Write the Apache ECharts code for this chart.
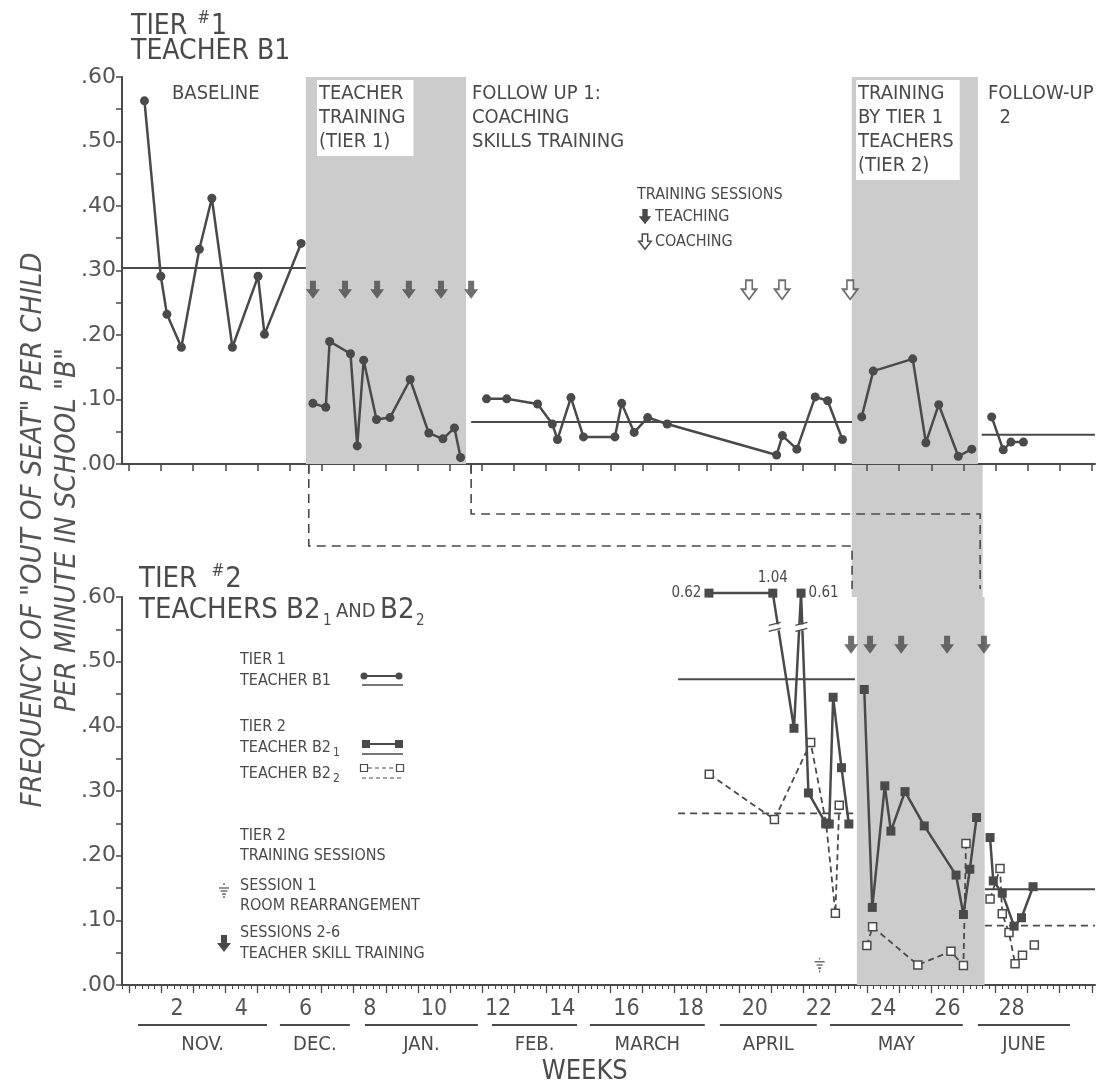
<!DOCTYPE html>
<html><head><meta charset="utf-8">
<script src="https://cdn.jsdelivr.net/npm/echarts@6/dist/echarts.min.js"></script>
<style>html,body{margin:0;padding:0;background:#fff}#c{width:1115px;height:1088px}</style>
</head><body><div id="c"></div>
<script>
const FONT = '"DejaVu Sans Condensed","Liberation Sans Narrow","DejaVu Sans",sans-serif';
const NUMFONT = '"DejaVu Sans","Liberation Sans",sans-serif';
const INK = '#4a4a4a';
const SHADE = '#cccccc';

// ---------- Tier 1 : Teacher B1 (top panel) ----------
const b1BaselineWeeks = [0.98, 1.49, 1.68, 2.13, 2.69, 3.08, 3.72, 4.52, 4.72, 5.86];
const b1BaselineVals  = [0.563, 0.291, 0.232, 0.181, 0.333, 0.412, 0.181, 0.291, 0.201, 0.342];
const b1TrainWeeks = [6.23, 6.63, 6.75, 7.40, 7.61, 7.81, 8.21, 8.63, 9.26, 9.84, 10.28, 10.64, 10.83];
const b1TrainVals  = [0.094, 0.088, 0.190, 0.171, 0.028, 0.161, 0.069, 0.072, 0.131, 0.048, 0.039, 0.056, 0.010];
const b1Follow1Weeks = [11.64, 12.27, 13.23, 13.69, 13.85, 14.27, 14.66, 15.64, 15.85, 16.24, 16.66, 17.27, 20.68, 20.86, 21.31, 21.88, 22.27, 22.73];
const b1Follow1Vals  = [0.101, 0.101, 0.093, 0.062, 0.038, 0.103, 0.042, 0.042, 0.094, 0.049, 0.072, 0.062, 0.014, 0.044, 0.023, 0.104, 0.098, 0.038];
const b1Tier2Weeks = [23.33, 23.69, 24.92, 25.33, 25.73, 26.34, 26.76];
const b1Tier2Vals  = [0.073, 0.144, 0.163, 0.033, 0.092, 0.012, 0.023];
const b1Follow2Weeks = [27.38, 27.74, 27.98, 28.37];
const b1Follow2Vals  = [0.073, 0.022, 0.034, 0.034];
// phase means: [startWeek, endWeek, value]
const b1Means = [[0.28, 6.01, 0.304], [11.16, 23.03, 0.065], [27.07, 30.6, 0.0455]];
const teachingWeeks = [6.23, 7.23, 8.23, 9.22, 10.22, 11.16];
const coachingWeeks = [19.82, 20.85, 22.97];
const tier1ArrowLevel = 0.27;
const topPhases = [[6.01, 11.0], [23.02, 26.95]];

// ---------- Tier 2 : Teachers B2-1 and B2-2 (bottom panel) ----------
const b21BaseWeeks = [18.57, 20.56, 21.22, 21.44, 21.67, 22.22, 22.32, 22.44, 22.70, 22.93];
const b21BaseVals  = [0.606, 0.606, 0.397, 0.606, 0.297, 0.249, 0.249, 0.445, 0.336, 0.249];
const b21BaseActual = [0.62, 1.04, null, 0.61, null, null, null, null, null, null];
const b21TrainWeeks = [23.41, 23.66, 24.05, 24.24, 24.68, 25.28, 26.27, 26.50, 26.70, 26.91];
const b21TrainVals  = [0.457, 0.120, 0.308, 0.238, 0.299, 0.246, 0.170, 0.109, 0.179, 0.259];
const b21FollowWeeks = [27.33, 27.43, 27.71, 28.08, 28.31, 28.67];
const b21FollowVals  = [0.228, 0.161, 0.142, 0.091, 0.104, 0.152];
const b22BaseWeeks = [18.58, 20.61, 21.74, 22.22, 22.51, 22.63];
const b22BaseVals  = [0.326, 0.256, 0.375, 0.250, 0.111, 0.278];
const b22TrainWeeks = [23.49, 23.67, 25.08, 26.11, 26.50, 26.58];
const b22TrainVals  = [0.061, 0.090, 0.031, 0.052, 0.030, 0.219];
const b22FollowWeeks = [27.33, 27.64, 27.71, 27.92, 28.11, 28.34, 28.71];
const b22FollowVals  = [0.133, 0.180, 0.110, 0.081, 0.033, 0.046, 0.062];
const b21Means = [[17.61, 23.12, 0.473], [27.17, 30.6, 0.148]];
const b22Means = [[17.61, 23.18, 0.2655], [27.17, 30.6, 0.0917]];
const tier2SessionWeeks = [23.0, 23.59, 24.56, 25.99, 27.14];
const tier2ArrowLevel = 0.526;
const session1 = [22.02, 0.031];
const bottomPhases = [[23.18, 27.16]];

// ---------- axis text ----------
const weekTickLabels = [2, 4, 6, 8, 10, 12, 14, 16, 18, 20, 22, 24, 26, 28];
const months = ['NOV.', 'DEC.', 'JAN.', 'FEB.', 'MARCH', 'APRIL', 'MAY', 'JUNE'];
const monthRanges = [[0.78, 4.8], [5.2, 7.38], [7.85, 11.37], [11.81, 14.46], [14.86, 18.44], [18.91, 21.93], [22.34, 26.48], [26.95, 29.82]];

const XMIN = 0.28, XMAX = 30.6;
const zip = (xs, ys) => xs.map((x, i) => [x, ys[i]]);
const weekTicks = []; for (let w = 0.5; w <= 30.5; w += 1) weekTicks.push(w);
const dayTicks = []; for (let w = 0.3; w <= 30.6; w += 0.2) dayTicks.push(+w.toFixed(2));

const ARROW = 'path://M-3,0 L3,0 L3,8 L7,8 L0,17 L-7,8 L-3,8 Z';
const GROUND = 'path://M5,0 L5,2 M0,4 L10,4 M2,7 L8,7 M3.5,10 L6.5,10 M5,11.5 L5,14';

const yLabel = v => { const r = Math.round(v * 100); return r % 10 === 0 ? '.' + String(r).padStart(2, '0') : ''; };

function yAxis(grid) {
  return {
    type: 'value', gridIndex: grid, min: 0, max: 0.6, interval: 0.05,
    axisLine: { show: true, lineStyle: { color: INK, width: 2 } },
    axisTick: { show: true, length: 6, lineStyle: { color: INK, width: 1.5 } },
    axisLabel: { formatter: yLabel, color: '#555', fontSize: 22, fontFamily: NUMFONT, margin: 6 },
    splitLine: { show: false }
  };
}

const lineBase = (xi, yi) => ({
  type: 'line', xAxisIndex: xi, yAxisIndex: yi, symbol: 'circle', symbolSize: 9, clip: false,
  lineStyle: { color: INK, width: 2.5 }, itemStyle: { color: INK }, z: 5, silent: true
});
const meanSeries = (xi, yi, m, dashed) => ({
  type: 'line', xAxisIndex: xi, yAxisIndex: yi, symbol: 'none', z: 4, silent: true,
  lineStyle: { color: INK, width: dashed ? 1.8 : 2, type: dashed ? [7, 5] : 'solid' },
  data: [[m[0], m[2]], [m[1], m[2]]]
});

const series = [];
// shading
series.push({
  type: 'line', xAxisIndex: 0, yAxisIndex: 0, data: [], z: 1, silent: true,
  markArea: { silent: true, itemStyle: { color: SHADE },
    data: topPhases.map(p => [{ xAxis: p[0], yAxis: 0 }, { xAxis: p[1], yAxis: 0.608 }]) }
});
series.push({
  type: 'line', xAxisIndex: 1, yAxisIndex: 1, data: [], z: 1, silent: true,
  markArea: { silent: true, itemStyle: { color: SHADE },
    data: bottomPhases.map(p => [{ xAxis: p[0], yAxis: 0 }, { xAxis: p[1], yAxis: 0.6 }]) }
});
// top panel data
[[b1BaselineWeeks, b1BaselineVals], [b1TrainWeeks, b1TrainVals], [b1Follow1Weeks, b1Follow1Vals],
 [b1Tier2Weeks, b1Tier2Vals], [b1Follow2Weeks, b1Follow2Vals]].forEach(([w, v]) =>
  series.push(Object.assign(lineBase(0, 0), { data: zip(w, v) })));
b1Means.forEach(m => series.push(meanSeries(0, 0, m, false)));
series.push({ type: 'scatter', xAxisIndex: 0, yAxisIndex: 0, symbol: ARROW, symbolSize: [14, 18], z: 6, silent: true,
  itemStyle: { color: INK }, data: teachingWeeks.map(w => [w, tier1ArrowLevel]) });
series.push({ type: 'scatter', xAxisIndex: 0, yAxisIndex: 0, symbol: ARROW, symbolSize: [15, 19], z: 6, silent: true,
  itemStyle: { color: '#fff', borderColor: INK, borderWidth: 1.8 }, data: coachingWeeks.map(w => [w, tier1ArrowLevel]) });

// bottom panel data
const sq1 = { symbol: 'rect', symbolSize: 9, itemStyle: { color: INK } };
const sq2 = { symbol: 'rect', symbolSize: 8, itemStyle: { color: '#fff', borderColor: INK, borderWidth: 1.5 } };
series.push(Object.assign(lineBase(1, 1), sq1, {
  data: b21BaseWeeks.map((w, i) => {
    const d = { value: [w, b21BaseVals[i]] };
    if (b21BaseActual[i] != null) {
      const pos = i === 0 ? 'left' : (i === 1 ? 'top' : 'right');
      d.label = { show: true, position: pos, distance: 3, formatter: b21BaseActual[i].toFixed(2),
        color: INK, fontSize: 15, fontFamily: FONT };
    }
    return d;
  })
}));
series.push(Object.assign(lineBase(1, 1), sq1, { data: zip(b21TrainWeeks, b21TrainVals) }));
series.push(Object.assign(lineBase(1, 1), sq1, { data: zip(b21FollowWeeks, b21FollowVals) }));
[[b22BaseWeeks, b22BaseVals], [b22TrainWeeks, b22TrainVals], [b22FollowWeeks, b22FollowVals]].forEach(([w, v]) =>
  series.push(Object.assign(lineBase(1, 1), sq2, { z: 4, lineStyle: { color: INK, width: 1.8, type: [6, 4] }, data: zip(w, v) })));
b21Means.forEach(m => series.push(meanSeries(1, 1, m, false)));
b22Means.forEach(m => series.push(meanSeries(1, 1, m, true)));
series.push({ type: 'scatter', xAxisIndex: 1, yAxisIndex: 1, symbol: ARROW, symbolSize: [14, 18], z: 6, silent: true,
  itemStyle: { color: INK }, data: tier2SessionWeeks.map(w => [w, tier2ArrowLevel]) });
series.push({ type: 'scatter', xAxisIndex: 1, yAxisIndex: 1, symbol: GROUND, symbolSize: [10, 15], z: 6, silent: true,
  itemStyle: { color: 'rgba(0,0,0,0)', borderColor: INK, borderWidth: 1.3 }, data: [session1] });

const option = {
  animation: false,
  backgroundColor: '#fff',
  grid: [
    { left: 122, width: 973, top: 77, height: 387 },
    { left: 122, width: 973, top: 597, height: 388 }
  ],
  xAxis: [
    { type: 'value', gridIndex: 0, position: 'bottom', min: XMIN, max: XMAX,
      axisLine: { lineStyle: { color: INK, width: 2 } },
      axisTick: { show: true, customValues: weekTicks, length: 7, lineStyle: { color: INK, width: 1.5 } },
      axisLabel: { show: false }, splitLine: { show: false } },
    { type: 'value', gridIndex: 1, position: 'bottom', min: XMIN, max: XMAX,
      axisLine: { lineStyle: { color: INK, width: 2 } },
      axisTick: { show: true, customValues: dayTicks, length: 4, lineStyle: { color: INK, width: 1 } },
      axisLabel: { show: true, customValues: weekTickLabels, color: '#555', fontSize: 23, fontFamily: FONT, margin: 13 },
      splitLine: { show: false } },
    { type: 'value', gridIndex: 1, position: 'bottom', offset: 0, min: XMIN, max: XMAX,
      axisLine: { show: false },
      axisTick: { show: true, customValues: weekTicks, length: 8, lineStyle: { color: INK, width: 1.3 } },
      axisLabel: { show: false }, splitLine: { show: false } }
  ],
  yAxis: [yAxis(0), yAxis(1)],
  series: series
};

const chart = echarts.init(document.getElementById('c'), null, { renderer: 'canvas' });
chart.setOption(option);

// ---------- annotations positioned through the axes ----------
const P0 = (w, v) => chart.convertToPixel({ gridIndex: 0 }, [w, v]);
const P1 = (w, v) => chart.convertToPixel({ gridIndex: 1 }, [w, v]);
const g = [];
const txt = (x, y, text, size, extra) => g.push(Object.assign({ type: 'text', x: x, y: y, z: 20, silent: true,
  style: Object.assign({ text: text, fill: INK, font: size + 'px ' + FONT }, extra || {}) }));

// between-panel shading
{
  const a = P0(23.02, 0), b = P1(27.1, 0.6);
  g.push({ type: 'rect', z: 0, silent: true, shape: { x: a[0], y: a[1], width: b[0] - a[0], height: b[1] - a[1] }, style: { fill: SHADE } });
}
// dashed connectors between tiers
{
  const yA = 546, yB = 514;
  const l1a = P0(6.1, 0), l1b = P0(23.03, 0);
  const l2a = P0(11.16, 0), l2b = P0(27.02, 0);
  const yBot = P1(0, 0.6)[1] - 8;
  g.push({ type: 'polyline', z: 10, silent: true, shape: { points: [[l1a[0], l1a[1]], [l1a[0], yA], [l1b[0], yA], [l1b[0], yBot]] },
    style: { stroke: INK, lineWidth: 1.6, lineDash: [9, 6], fill: null } });
  g.push({ type: 'polyline', z: 10, silent: true, shape: { points: [[l2a[0], l2a[1]], [l2a[0], yB], [l2b[0], yB], [l2b[0], yBot]] },
    style: { stroke: INK, lineWidth: 1.6, lineDash: [9, 6], fill: null } });
  g.push({ type: 'line', z: 10, silent: true, shape: { x1: l1a[0], y1: l1a[1], x2: l1a[0], y2: l1a[1] + 10 }, style: { stroke: INK, lineWidth: 1.6 } });
  g.push({ type: 'line', z: 10, silent: true, shape: { x1: l2a[0], y1: l2a[1], x2: l2a[0], y2: l2a[1] + 10 }, style: { stroke: INK, lineWidth: 1.6 } });
}
// axis break marks on the B2-1 lines
[[20.62, 0.553], [21.45, 0.553]].forEach(([w, v]) => {
  const p = P1(w, v);
  g.push({ type: 'rect', z: 7, silent: true, shape: { x: p[0] - 5, y: p[1] - 3, width: 10, height: 6 }, style: { fill: '#fff' } });
  g.push({ type: 'line', z: 8, silent: true, shape: { x1: p[0] - 6, y1: p[1] - 2, x2: p[0] + 6, y2: p[1] - 5 }, style: { stroke: INK, lineWidth: 1.3 } });
  g.push({ type: 'line', z: 8, silent: true, shape: { x1: p[0] - 6, y1: p[1] + 4, x2: p[0] + 6, y2: p[1] + 1 }, style: { stroke: INK, lineWidth: 1.3 } });
});
// months under the week axis
months.forEach((m, i) => {
  const a = P1(monthRanges[i][0], 0), b = P1(monthRanges[i][1], 0);
  g.push({ type: 'line', z: 10, silent: true, shape: { x1: a[0], y1: 1025, x2: b[0], y2: 1025 }, style: { stroke: INK, lineWidth: 2 } });
  txt((a[0] + b[0]) / 2, 1045, m, 20, { align: 'center', verticalAlign: 'middle' });
});
txt(P1(14.7, 0)[0], 1072, 'WEEKS', 27, { align: 'center', verticalAlign: 'middle' });

// titles
g.push({ type: 'text', x: 131, y: 10, z: 20, silent: true, style: { text: '{a|TIER }{s|#}{a|1}', rich: {
  a: { fill: INK, fontSize: 28, fontFamily: FONT, verticalAlign: 'bottom' },
  s: { fill: INK, fontSize: 17, fontFamily: FONT, verticalAlign: 'top', padding: [0, 1, 14, 2] } } } });
txt(131, 52, 'TEACHER B1', 28, { verticalAlign: 'middle' });
g.push({ type: 'text', x: 139, y: 563, z: 20, silent: true, style: { text: '{a|TIER }{s|#}{a|2}', rich: {
  a: { fill: INK, fontSize: 29, fontFamily: FONT, verticalAlign: 'bottom' },
  s: { fill: INK, fontSize: 17, fontFamily: FONT, verticalAlign: 'top', padding: [0, 1, 14, 6] } } } });
txt(139, 610, 'TEACHERS B2', 29, { verticalAlign: 'middle' });
txt(323, 621, '1', 15, { verticalAlign: 'middle' });
txt(336, 612, 'AND', 20, { verticalAlign: 'middle' });
txt(380, 610, 'B2', 29, { verticalAlign: 'middle' });
txt(416, 621, '2', 15, { verticalAlign: 'middle' });

// phase labels
const phaseStyle = { lineHeight: 24, verticalAlign: 'top' };
txt(172, 82, 'BASELINE', 20, phaseStyle);
txt(317, 80, 'TEACHER\nTRAINING\n(TIER 1)', 20, Object.assign({ backgroundColor: '#fff', padding: [2, 8, 2, 2] }, phaseStyle));
txt(472, 82, 'FOLLOW UP 1:\nCOACHING\nSKILLS TRAINING', 20, phaseStyle);
txt(856, 80, 'TRAINING\nBY TIER 1\nTEACHERS\n(TIER 2)', 20, Object.assign({ backgroundColor: '#fff', padding: [2, 6, 2, 2] }, phaseStyle));
txt(988, 82, 'FOLLOW-UP\n  2', 20, phaseStyle);

// training-session key (tier 1)
txt(637, 195, 'TRAINING SESSIONS', 16, { verticalAlign: 'middle' });
txt(655, 217, 'TEACHING', 16, { verticalAlign: 'middle' });
txt(655, 242, 'COACHING', 16, { verticalAlign: 'middle' });
const arrowPts = (cx, top, s) => [[-3, 0], [3, 0], [3, 8], [7, 8], [0, 17], [-7, 8], [-3, 8]].map(p => [cx + p[0] * s, top + p[1] * s]);
g.push({ type: 'polygon', z: 20, silent: true, shape: { points: arrowPts(645, 209, 0.9) }, style: { fill: INK } });
g.push({ type: 'polygon', z: 20, silent: true, shape: { points: arrowPts(645, 234, 0.9) }, style: { fill: '#fff', stroke: INK, lineWidth: 1.5 } });

// legend (tier 2 panel)
txt(240, 660, 'TIER 1', 16, { verticalAlign: 'middle' });
txt(240, 681, 'TEACHER B1', 16, { verticalAlign: 'middle' });
g.push({ type: 'line', z: 20, silent: true, shape: { x1: 364, y1: 676, x2: 399, y2: 676 }, style: { stroke: INK, lineWidth: 2 } });
[364, 399].forEach(x => g.push({ type: 'circle', z: 21, silent: true, shape: { cx: x, cy: 676, r: 3.5 }, style: { fill: INK } }));
g.push({ type: 'line', z: 20, silent: true, shape: { x1: 362, y1: 685, x2: 403, y2: 685 }, style: { stroke: INK, lineWidth: 1.5 } });
txt(240, 727, 'TIER 2', 16, { verticalAlign: 'middle' });
g.push({ type: 'text', x: 240, y: 748, z: 20, silent: true, style: { text: '{a|TEACHER B2}{b|1}', verticalAlign: 'middle', rich: {
  a: { fill: INK, fontSize: 16, fontFamily: FONT }, b: { fill: INK, fontSize: 12, fontFamily: FONT, padding: [10, 0, 0, 2] } } } });
g.push({ type: 'line', z: 20, silent: true, shape: { x1: 366, y1: 744, x2: 399, y2: 744 }, style: { stroke: INK, lineWidth: 2 } });
[366, 399].forEach(x => g.push({ type: 'rect', z: 21, silent: true, shape: { x: x - 4, y: 740, width: 8, height: 8 }, style: { fill: INK } }));
g.push({ type: 'line', z: 20, silent: true, shape: { x1: 362, y1: 754, x2: 403, y2: 754 }, style: { stroke: INK, lineWidth: 1.5 } });
g.push({ type: 'text', x: 240, y: 774, z: 20, silent: true, style: { text: '{a|TEACHER B2}{b|2}', verticalAlign: 'middle', rich: {
  a: { fill: INK, fontSize: 16, fontFamily: FONT }, b: { fill: INK, fontSize: 12, fontFamily: FONT, padding: [10, 0, 0, 2] } } } });
g.push({ type: 'line', z: 20, silent: true, shape: { x1: 368, y1: 768, x2: 396, y2: 768 }, style: { stroke: INK, lineWidth: 1.2, lineDash: [4, 3] } });
[364, 400].forEach(x => g.push({ type: 'rect', z: 21, silent: true, shape: { x: x - 3.5, y: 764.5, width: 7, height: 7 }, style: { fill: '#fff', stroke: INK, lineWidth: 1.2 } }));
g.push({ type: 'line', z: 20, silent: true, shape: { x1: 362, y1: 778, x2: 403, y2: 778 }, style: { stroke: INK, lineWidth: 1.2, lineDash: [4, 3] } });
txt(240, 836, 'TIER 2', 16, { verticalAlign: 'middle' });
txt(240, 856, 'TRAINING SESSIONS', 16, { verticalAlign: 'middle' });
txt(240, 886, 'SESSION 1', 16, { verticalAlign: 'middle' });
txt(240, 906, 'ROOM REARRANGEMENT', 16, { verticalAlign: 'middle' });
txt(240, 933, 'SESSIONS 2-6', 16, { verticalAlign: 'middle' });
txt(240, 954, 'TEACHER SKILL TRAINING', 16, { verticalAlign: 'middle' });
// ground-like session-1 key
[[219, 888, 229], [220.5, 891, 227.5], [222, 894, 226]].forEach(([x1, y, x2]) =>
  g.push({ type: 'line', z: 20, silent: true, shape: { x1: x1, y1: y, x2: x2, y2: y }, style: { stroke: INK, lineWidth: 1.2 } }));
g.push({ type: 'line', z: 20, silent: true, shape: { x1: 224, y1: 883, x2: 224, y2: 885 }, style: { stroke: INK, lineWidth: 1.2 } });
g.push({ type: 'line', z: 20, silent: true, shape: { x1: 224, y1: 896, x2: 224, y2: 898 }, style: { stroke: INK, lineWidth: 1.2 } });
g.push({ type: 'polygon', z: 20, silent: true, shape: { points: arrowPts(224, 935, 1.0) }, style: { fill: INK } });

// y axis title
g.push({ type: 'text', x: 33, y: 530, rotation: Math.PI / 2, z: 20, silent: true,
  style: { text: 'FREQUENCY OF "OUT OF SEAT" PER CHILD', fill: '#555', font: 'italic 29px ' + FONT, align: 'center', verticalAlign: 'middle' } });
g.push({ type: 'text', x: 67, y: 530, rotation: Math.PI / 2, z: 20, silent: true,
  style: { text: 'PER MINUTE IN SCHOOL "B"', fill: '#555', font: 'italic 29px ' + FONT, align: 'center', verticalAlign: 'middle' } });

chart.setOption({ graphic: { elements: g } });
</script></body></html>
